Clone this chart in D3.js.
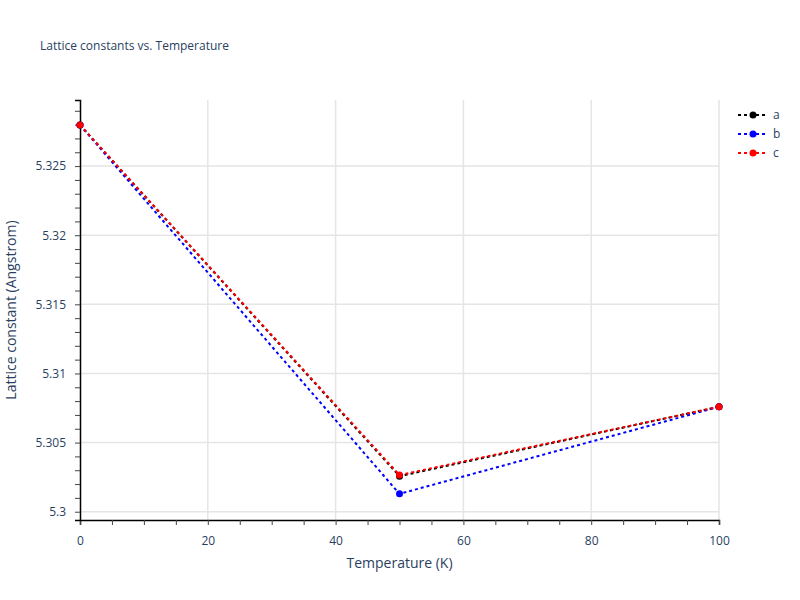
<!DOCTYPE html>
<html><head><meta charset="utf-8">
<script src="https://cdn.jsdelivr.net/npm/d3@7"></script>
<style>body{margin:0;background:#fff}text{font-family:"Open Sans",Arial,sans-serif}</style>
</head><body><svg id="c" width="800" height="600"></svg>
<script>
const temps = [0, 50, 100]
const seriesA = [5.32797, 5.30257, 5.30759]
const seriesB = [5.32797, 5.30129, 5.30759]
const seriesC = [5.32797, 5.30265, 5.30759]
const names = ['a', 'b', 'c']
const colors = ['#000000', '#0000ff', '#ff0000']
const xTicks = [0, 20, 40, 60, 80, 100]
const yTicks = [5.3, 5.305, 5.31, 5.315, 5.32, 5.325]

const svg = d3.select('#c')
const L = 80, R = 719, T = 100, B = 520
const x = d3.scaleLinear().domain([0, 100]).range([L, R])
const y = d3.scaleLinear().domain([5.29940, 5.32978]).range([B, T])
const grey = '#2a3f5f'

// grid
svg.append('g').selectAll('line').data(xTicks.slice(1)).join('line')
  .attr('x1', d => x(d)).attr('x2', d => x(d)).attr('y1', T).attr('y2', B)
  .attr('stroke', '#e5e5e5').attr('stroke-width', 1.5)
svg.append('g').selectAll('line').data(yTicks).join('line')
  .attr('x1', L).attr('x2', R).attr('y1', d => y(d)).attr('y2', d => y(d))
  .attr('stroke', '#e5e5e5').attr('stroke-width', 1.5)

// axes
const xAxis = svg.append('g').attr('transform', `translate(0,${B})`)
  .call(d3.axisBottom(x).tickValues(d3.range(0, 101, 5)).tickSize(5).tickFormat(''))
xAxis.select('.domain').attr('stroke', '#000').attr('stroke-width', 1.5)
xAxis.selectAll('.tick line').attr('stroke', '#444')
svg.append('g').attr('transform', `translate(0,${B})`)
  .call(d3.axisBottom(x).tickValues(xTicks).tickSize(0).tickPadding(16))
  .call(g => g.select('.domain').remove())
  .selectAll('text').attr('fill', grey).attr('font-size', 12)

const yAxis = svg.append('g').attr('transform', `translate(${L},0)`)
  .call(d3.axisLeft(y).tickValues(d3.range(5.3, 5.3295, 0.001)).tickSize(5).tickFormat(''))
yAxis.select('.domain').attr('stroke', '#000').attr('stroke-width', 1.5)
yAxis.selectAll('.tick line').attr('stroke', '#444')
svg.append('g').attr('transform', `translate(${L},0)`)
  .call(d3.axisLeft(y).tickValues(yTicks).tickSize(0).tickPadding(14).tickFormat(d3.format('~g')))
  .call(g => g.select('.domain').remove())
  .selectAll('text').attr('fill', grey).attr('font-size', 12)

// series
const data = [seriesA, seriesB, seriesC]
const line = d3.line().x((d, i) => x(temps[i])).y(d => y(d))
data.forEach((s, k) => {
  svg.append('path').datum(s).attr('d', line).attr('fill', 'none')
    .attr('stroke', colors[k]).attr('stroke-width', 2).attr('stroke-dasharray', '3,3')
  svg.append('g').selectAll('circle').data(s).join('circle')
    .attr('cx', (d, i) => x(temps[i])).attr('cy', d => y(d)).attr('r', 3.5).attr('fill', colors[k])
})

// legend
names.forEach((n, k) => {
  const ly = 115 + k * 19
  svg.append('line').attr('x1', 738).attr('x2', 768).attr('y1', ly).attr('y2', ly)
    .attr('stroke', colors[k]).attr('stroke-width', 2).attr('stroke-dasharray', '3,3')
  svg.append('circle').attr('cx', 753).attr('cy', ly).attr('r', 3.5).attr('fill', colors[k])
  svg.append('text').attr('x', 773).attr('y', ly + 4).text(n).attr('fill', grey).attr('font-size', 12)
})

// titles
svg.append('text').attr('x', 40).attr('y', 50).text('Lattice constants vs. Temperature')
  .attr('fill', grey).attr('font-size', 12)
svg.append('text').attr('x', (L + R) / 2).attr('y', 568).attr('text-anchor', 'middle')
  .text('Temperature (K)').attr('fill', grey).attr('font-size', 14)
svg.append('text').attr('transform', `translate(16,${(T + B) / 2}) rotate(-90)`).attr('text-anchor', 'middle')
  .text('Lattice constant (Angstrom)').attr('fill', grey).attr('font-size', 14)
</script></body></html>
